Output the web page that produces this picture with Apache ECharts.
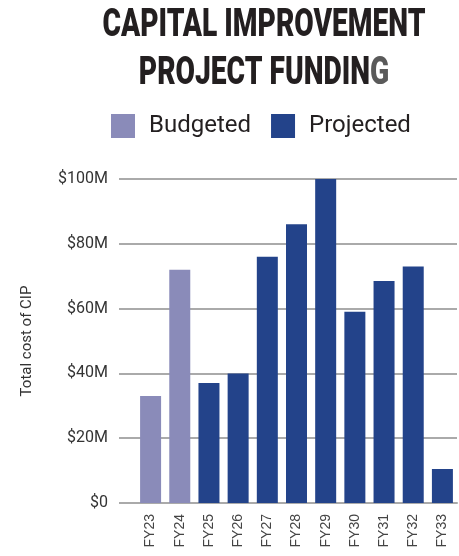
<!DOCTYPE html>
<html>
<head>
<meta charset="utf-8">
<script src="https://cdn.jsdelivr.net/npm/echarts@6/dist/echarts.min.js"></script>
<style>
  html, body { margin: 0; padding: 0; background: #fff; }
  #main { width: 459px; height: 556px; }
</style>
</head>
<body>
<div id="main"></div>
<script>
  // fiscal years and CIP cost in $M
  var categories = ['FY23', 'FY24', 'FY25', 'FY26', 'FY27', 'FY28', 'FY29', 'FY30', 'FY31', 'FY32', 'FY33'];
  var budgeted = [33, 72, '-', '-', '-', '-', '-', '-', '-', '-', '-'];
  var projected = ['-', '-', 37, 40, 76, 86, 100, 59, 68.5, 73, 10.5];
  var titleLines = ['CAPITAL IMPROVEMENT', 'PROJECT FUNDIN', 'G'];

  // condensed heading: squeeze a heavy face to the width of the original
  var titleFont = '900 38px Roboto';
  var ctx = document.createElement('canvas').getContext('2d');
  ctx.font = titleFont;
  var sx = 323 / ctx.measureText(titleLines[0]).width;

  var chart = echarts.init(document.getElementById('main'));
  chart.setOption({
    animation: false,
    graphic: [
      {
        type: 'text',
        x: 264,
        y: 7,
        scaleX: sx,
        style: {
          text: titleLines[0],
          font: titleFont,
          fill: '#231f20',
          align: 'center',
          verticalAlign: 'top'
        }
      },
      {
        type: 'text',
        x: 264,
        y: 55,
        scaleX: sx,
        style: {
          text: titleLines[1] + '{g|' + titleLines[2] + '}',
          font: titleFont,
          fill: '#231f20',
          align: 'center',
          verticalAlign: 'top',
          rich: {
            g: { font: titleFont, fill: '#5a5a5a' }
          }
        }
      }
    ],
    legend: {
      left: 106,
      top: 109,
      itemWidth: 24,
      itemHeight: 24,
      itemGap: 20,
      icon: 'rect',
      textStyle: {
        fontFamily: 'Roboto',
        fontSize: 24,
        color: '#231f20',
        padding: [0, 0, 0, 9]
      },
      data: ['Budgeted', 'Projected']
    },
    grid: {
      left: 136,
      right: 2,
      top: 179,
      bottom: 53
    },
    xAxis: {
      type: 'category',
      data: categories,
      axisTick: { show: false },
      axisLine: { lineStyle: { color: '#aaa', width: 2 } },
      axisLabel: {
        rotate: 90,
        margin: 11,
        fontFamily: 'Liberation Sans',
        fontSize: 14,
        color: '#444'
      }
    },
    yAxis: {
      type: 'value',
      min: 0,
      max: 100,
      interval: 20,
      name: 'Total cost of CIP',
      nameLocation: 'middle',
      nameGap: 101,
      nameTextStyle: {
        fontFamily: 'Roboto',
        fontSize: 15,
        color: '#333'
      },
      axisLine: { show: false },
      axisTick: { show: true, inside: false, length: 17, lineStyle: { color: '#aaa', width: 2 } },
      splitLine: { lineStyle: { color: '#aaa', width: 2 } },
      axisLabel: {
        margin: 28,
        fontFamily: 'Roboto',
        fontSize: 16,
        color: '#333',
        formatter: function (v) {
          return v === 0 ? '$0' : '$' + v + 'M';
        }
      }
    },
    series: [
      {
        name: 'Budgeted',
        type: 'bar',
        data: budgeted,
        barWidth: 21,
        barGap: '-100%',
        itemStyle: { color: '#8a8bb9' }
      },
      {
        name: 'Projected',
        type: 'bar',
        data: projected,
        barWidth: 21,
        itemStyle: { color: '#23438a' }
      }
    ]
  });
</script>
</body>
</html>
